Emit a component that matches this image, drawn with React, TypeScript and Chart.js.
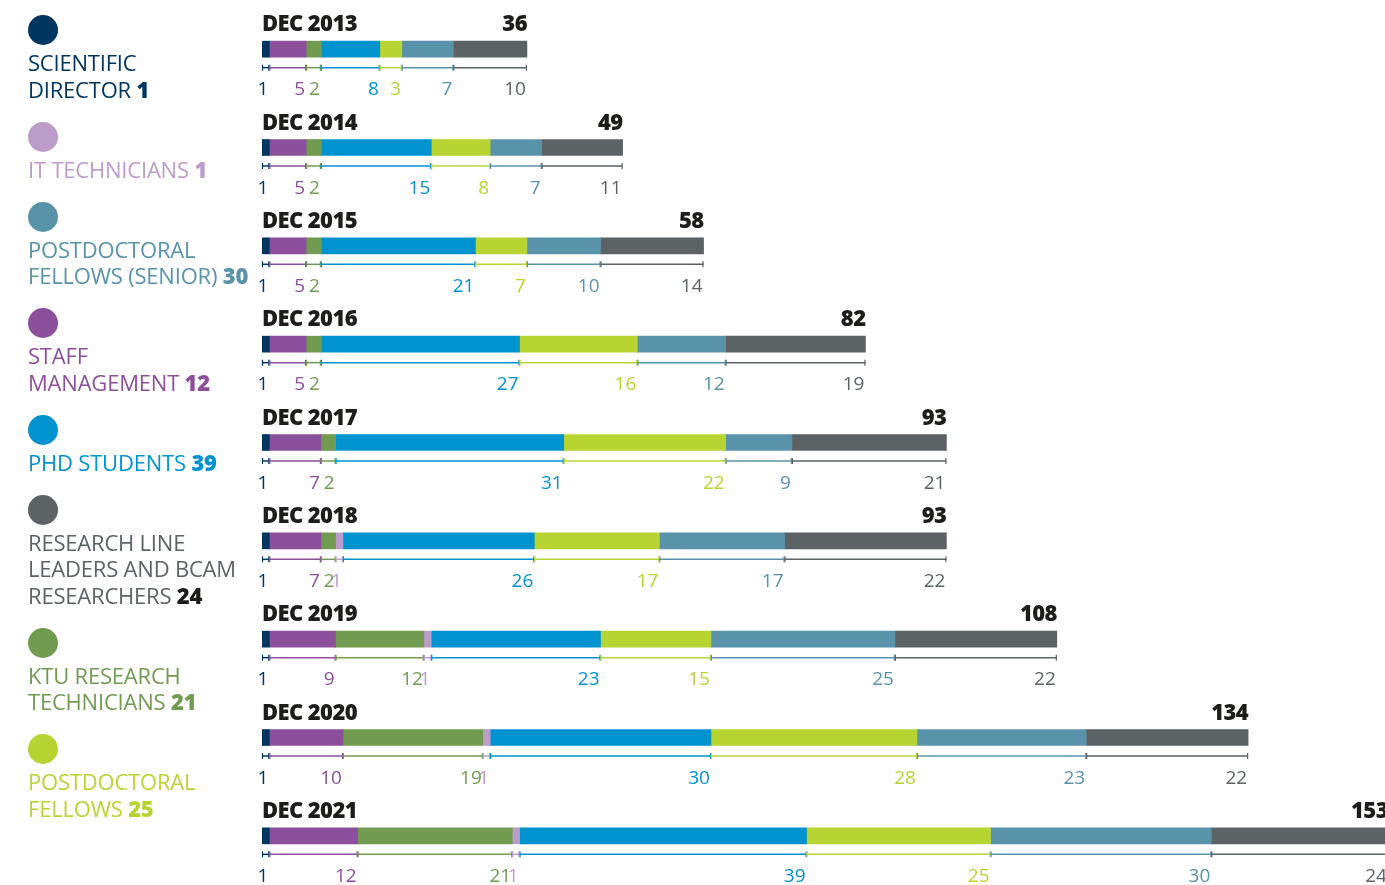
import React, { useEffect, useRef } from "react";
import { Chart, registerables } from "chart.js";

Chart.register(...registerables);

// ---- data ----
const years = ["2013", "2014", "2015", "2016", "2017", "2018", "2019", "2020", "2021"];
const directorValues = [1, 1, 1, 1, 1, 1, 1, 1, 1];
const staffValues = [5, 5, 5, 5, 7, 7, 9, 10, 12];
const ktuValues = [2, 2, 2, 2, 2, 2, 12, 19, 21];
const itValues = [0, 0, 0, 0, 0, 1, 1, 1, 1];
const phdValues = [8, 15, 21, 27, 31, 26, 23, 30, 39];
const postdocValues = [3, 8, 7, 16, 22, 17, 15, 28, 25];
const seniorValues = [7, 7, 10, 12, 9, 17, 25, 23, 30];
const researcherValues = [10, 11, 14, 19, 21, 22, 22, 22, 24];
const totalLabels = [36, 49, 58, 82, 93, 93, 108, 134, 153];

type Series = { key: string; lines: string[]; color: string; values: number[]; numColor?: string };

const seriesList: Series[] = [
  { key: "director", lines: ["SCIENTIFIC", "DIRECTOR"], color: "#003660", values: directorValues },
  { key: "staff", lines: ["STAFF", "MANAGEMENT"], color: "#8c4f9c", values: staffValues },
  { key: "ktu", lines: ["KTU RESEARCH", "TECHNICIANS"], color: "#729b52", values: ktuValues },
  { key: "it", lines: ["IT TECHNICIANS"], color: "#bc9cc9", values: itValues },
  { key: "phd", lines: ["PHD STUDENTS"], color: "#0093d0", values: phdValues },
  { key: "postdoc", lines: ["POSTDOCTORAL", "FELLOWS"], color: "#b8d432", values: postdocValues },
  { key: "senior", lines: ["POSTDOCTORAL", "FELLOWS (SENIOR)"], color: "#5893aa", values: seniorValues },
  { key: "researchers", lines: ["RESEARCH LINE", "LEADERS AND BCAM", "RESEARCHERS"], color: "#5d6265", values: researcherValues, numColor: "#1d1d1b" },
];

const legendOrder = ["director", "it", "senior", "staff", "phd", "researchers", "ktu", "postdoc"];

const TITLE_COLOR = "#1d1d1b";

const annotatePlugin = {
  id: "annotate",
  afterDatasetsDraw(chart: any) {
    const ctx: any = chart.ctx;
    const n = chart.data.labels.length;
    const left = chart.chartArea.left;
    ctx.save();
    for (let i = 0; i < n; i++) {
      const yc = chart.getDatasetMeta(0).data[i].y;
      let right = left;
      chart.data.datasets.forEach((ds: any, j: number) => {
        const v = ds.data[i];
        if (!v) return;
        const el = chart.getDatasetMeta(j).data[i];
        const x0 = Math.min(el.base, el.x);
        const x1 = Math.max(el.base, el.x);
        right = Math.max(right, x1);
        const color = ds.backgroundColor;
        ctx.strokeStyle = color;
        ctx.lineWidth = 1.5;
        ctx.beginPath();
        ctx.moveTo(x0, yc + 18.5);
        ctx.lineTo(x1, yc + 18.5);
        ctx.stroke();
        ctx.lineWidth = 1.2;
        ctx.beginPath();
        ctx.moveTo(x0 + 0.5, yc + 15.5);
        ctx.lineTo(x0 + 0.5, yc + 21.5);
        ctx.moveTo(x1 - 0.5, yc + 15.5);
        ctx.lineTo(x1 - 0.5, yc + 21.5);
        ctx.stroke();
        ctx.fillStyle = color;
        ctx.letterSpacing = "0px";
        ctx.font = '19px "Open Sans", "Noto Sans", sans-serif';
        ctx.textAlign = "right";
        ctx.textBaseline = "alphabetic";
        ctx.fillText(String(v), x1 - 1, yc + 46);
      });
      ctx.fillStyle = TITLE_COLOR;
      ctx.font = '800 22px "Open Sans", "Noto Sans", sans-serif';
      ctx.letterSpacing = "-0.6px";
      ctx.textBaseline = "alphabetic";
      ctx.textAlign = "left";
      ctx.fillText("DEC " + chart.data.labels[i], left, yc - 18);
      ctx.textAlign = "right";
      ctx.fillText(String(totalLabels[i]), right, yc - 18);
    }
    ctx.restore();
  },
};

function Legend() {
  const byKey: Record<string, Series> = {};
  seriesList.forEach((s) => (byKey[s.key] = s));
  return (
    <div
      style={{
        position: "absolute",
        left: 28,
        top: 15,
        fontFamily: '"Open Sans", "Noto Sans", sans-serif',
        fontSize: 22,
        lineHeight: "26.5px",
      }}
    >
      {legendOrder.map((k) => {
        const s = byKey[k];
        const last = s.values[s.values.length - 1];
        return (
          <div key={k} style={{ marginBottom: 19.5 }}>
            <div style={{ width: 30, height: 30, borderRadius: "50%", background: s.color, marginBottom: 4 }} />
            <div style={{ color: s.color, whiteSpace: "nowrap", letterSpacing: "-0.2px" }}>
              {s.lines.map((ln, idx) => (
                <div key={idx}>
                  {ln}
                  {idx === s.lines.length - 1 ? (
                    <span style={{ fontWeight: 800, color: s.numColor || s.color }}> {last}</span>
                  ) : null}
                </div>
              ))}
            </div>
          </div>
        );
      })}
    </div>
  );
}

export default function App() {
  const canvasRef = useRef<HTMLCanvasElement | null>(null);

  useEffect(() => {
    if (!canvasRef.current) return;
    const chart = new Chart(canvasRef.current, {
      type: "bar",
      data: {
        labels: years,
        datasets: seriesList.map((s) => ({
          label: s.lines.join(" "),
          data: s.values,
          backgroundColor: s.color,
          borderWidth: 0,
          barThickness: 16,
        })),
      },
      options: {
        indexAxis: "y",
        responsive: false,
        animation: false,
        layout: { padding: { left: 262, right: 0, top: 0, bottom: 0 } },
        plugins: { legend: { display: false }, tooltip: { enabled: false } },
        scales: {
          x: { stacked: true, display: false, min: 0, max: 152.6 },
          y: { stacked: true, display: false },
        },
      },
      plugins: [annotatePlugin],
    } as any);
    return () => chart.destroy();
  }, []);

  return (
    <div style={{ position: "absolute", left: 0, top: 0, width: 1385, height: 885, overflow: "hidden", background: "#fff" }}>
      <canvas ref={canvasRef} width={1385} height={885} style={{ position: "absolute", left: 0, top: 0 }} />
      <Legend />
    </div>
  );
}
